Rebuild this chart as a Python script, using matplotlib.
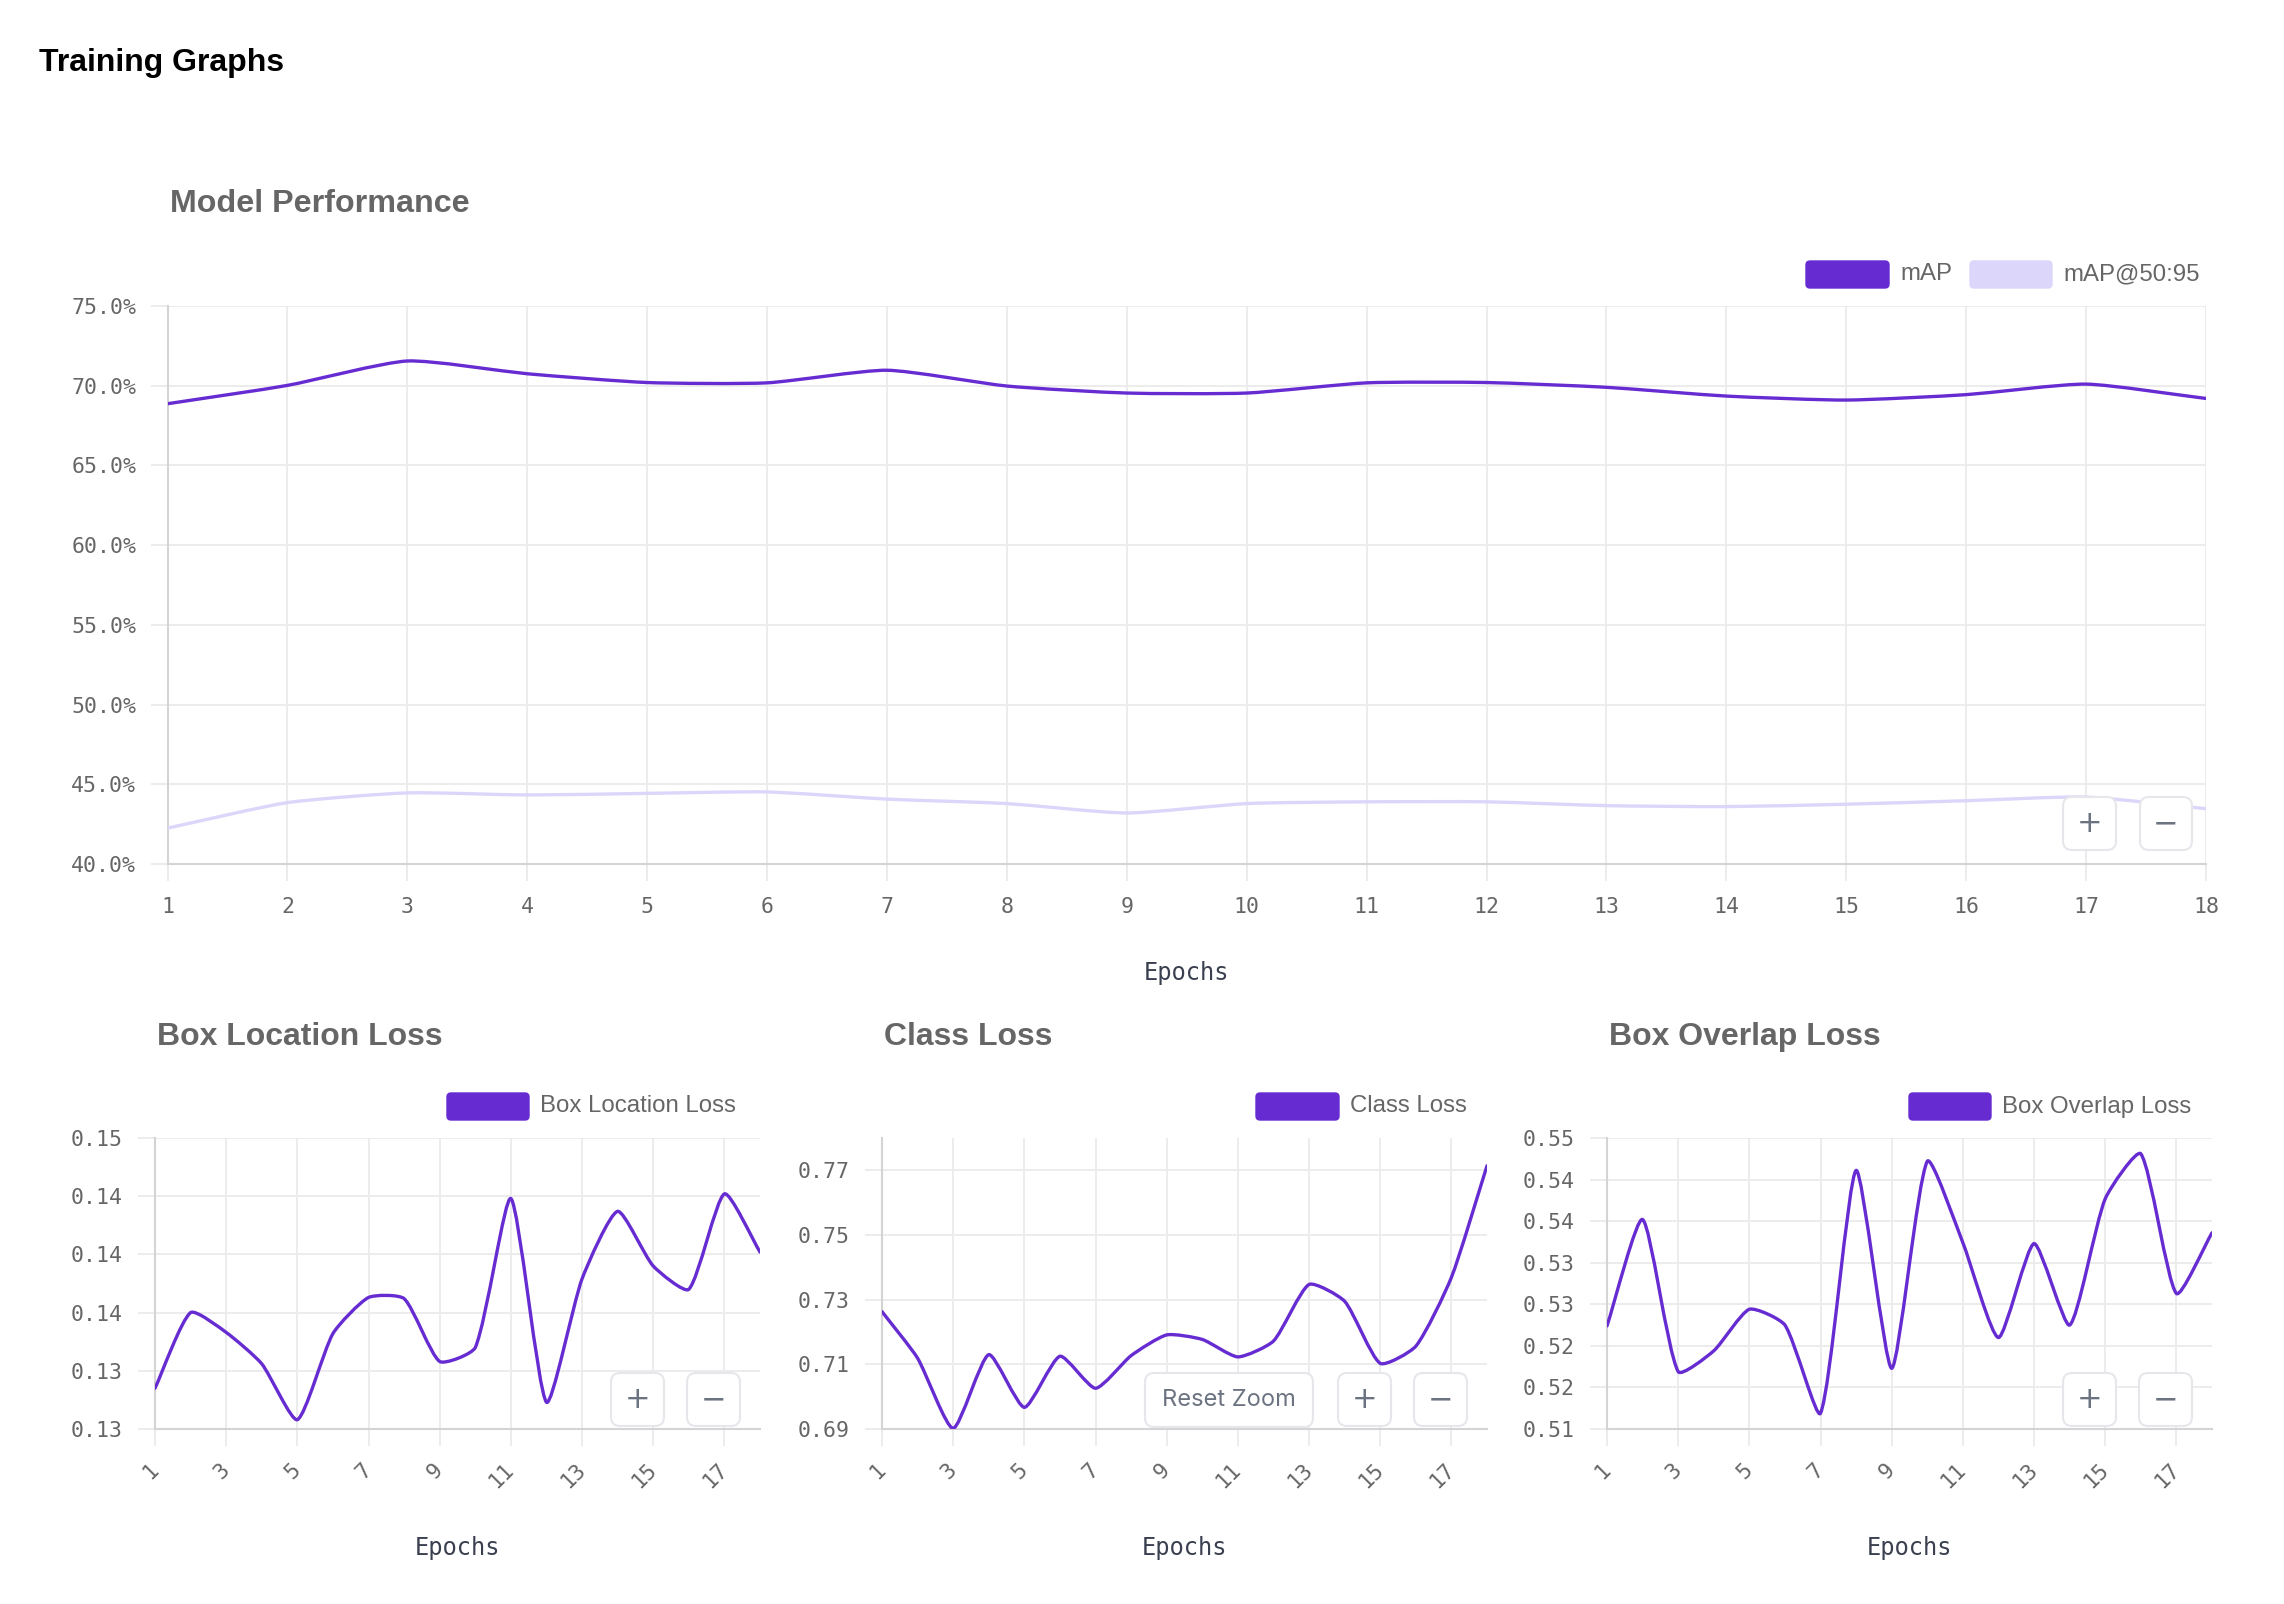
import numpy as np
import matplotlib
matplotlib.use("Agg")
import matplotlib.pyplot as plt
from matplotlib.path import Path
from matplotlib.patches import PathPatch, FancyBboxPatch
from matplotlib.transforms import IdentityTransform

# ---------------- data ----------------
epochs = list(range(1, 19))
map_values = [68.87, 70.02, 71.55, 70.75, 70.20, 70.18, 70.97, 69.98, 69.54,
              69.54, 70.18, 70.20, 69.90, 69.35, 69.10, 69.44, 70.10, 69.20]
map5095_values = [42.25, 43.85, 44.46, 44.33, 44.43, 44.52, 44.07, 43.79, 43.20,
                  43.79, 43.90, 43.90, 43.66, 43.60, 43.75, 43.97, 44.20, 43.47]
box_location_loss = [0.1285, 0.1350, 0.1333, 0.1306, 0.1258, 0.1332, 0.1363, 0.1362, 0.1308,
                     0.1320, 0.1448, 0.1273, 0.1379, 0.1437, 0.1390, 0.1370, 0.1452, 0.1402]
class_loss = [0.7263, 0.7119, 0.6902, 0.7130, 0.6967, 0.7125, 0.7026, 0.7127, 0.7191,
              0.7177, 0.7123, 0.7172, 0.7347, 0.7295, 0.7103, 0.7156, 0.7369, 0.7714]
box_overlap_loss = [0.5224, 0.5352, 0.5169, 0.5194, 0.5244, 0.5225, 0.5119, 0.5411, 0.5173,
                    0.5422, 0.5324, 0.5210, 0.5323, 0.5225, 0.5377, 0.5431, 0.5263, 0.5336]

perf_yticks = [40, 45, 50, 55, 60, 65, 70, 75]
perf_ytick_labels = ["40.0%", "45.0%", "50.0%", "55.0%", "60.0%", "65.0%", "70.0%", "75.0%"]
loss_xticks = [1, 3, 5, 7, 9, 11, 13, 15, 17]
box_loc_yticks = [0.125, 0.130, 0.135, 0.140, 0.145, 0.150]
box_loc_ytick_labels = ["0.13", "0.13", "0.14", "0.14", "0.14", "0.15"]
class_yticks = [0.69, 0.71, 0.73, 0.75, 0.77]
class_ytick_labels = ["0.69", "0.71", "0.73", "0.75", "0.77"]
overlap_yticks = [0.510, 0.515, 0.520, 0.525, 0.530, 0.535, 0.540, 0.545]
overlap_ytick_labels = ["0.51", "0.52", "0.52", "0.53", "0.53", "0.54", "0.54", "0.55"]

# ---------------- style ----------------
W, H = 2284, 1604
PURPLE = '#662CD2'
LIGHT = '#DCD6FA'
GRID = '#ECECEC'
AXIS = '#D4D4D4'
TICKC = '#666666'
MONO = 'DejaVu Sans Mono'
SANS = 'Liberation Sans'
TENSION = 0.2

fig = plt.figure(figsize=(W / 100, H / 100), dpi=100)
fig.patch.set_facecolor('white')
ID = IdentityTransform()


def add_axes_px(l, t, r, b):
    return fig.add_axes([l / W, 1 - b / H, (r - l) / W, (b - t) / H])


def spline_path(ax, xs, ys, tension=TENSION):
    x0, x1 = ax.get_xlim()
    y0, y1 = ax.get_ylim()
    pos = ax.get_position()
    pw, ph = pos.width * W, pos.height * H
    px = (np.asarray(xs, float) - x0) / (x1 - x0) * pw
    py = (np.asarray(ys, float) - y0) / (y1 - y0) * ph
    n = len(px)
    prev_c = np.zeros((n, 2))
    next_c = np.zeros((n, 2))
    for i in range(n):
        p0 = np.array([px[max(i - 1, 0)], py[max(i - 1, 0)]])
        p1 = np.array([px[i], py[i]])
        p2 = np.array([px[min(i + 1, n - 1)], py[min(i + 1, n - 1)]])
        d01 = np.hypot(*(p1 - p0))
        d12 = np.hypot(*(p2 - p1))
        tot = d01 + d12
        s01 = d01 / tot if tot else 0.0
        s12 = d12 / tot if tot else 0.0
        prev_c[i] = p1 - tension * s01 * (p2 - p0)
        next_c[i] = p1 + tension * s12 * (p2 - p0)
    for c in (prev_c, next_c):
        c[:, 0] = np.clip(c[:, 0], 0, pw)
        c[:, 1] = np.clip(c[:, 1], 0, ph)
    verts = [(px[0], py[0])]
    codes = [Path.MOVETO]
    for i in range(n - 1):
        verts += [tuple(next_c[i]), tuple(prev_c[i + 1]), (px[i + 1], py[i + 1])]
        codes += [Path.CURVE4] * 3
    verts = np.array(verts)
    verts[:, 0] = x0 + verts[:, 0] / pw * (x1 - x0)
    verts[:, 1] = y0 + verts[:, 1] / ph * (y1 - y0)
    return Path(verts, codes)


def draw_series(ax, xs, ys, color, lw=2.4, z=3):
    ax.add_patch(PathPatch(spline_path(ax, xs, ys), facecolor='none', edgecolor=color,
                           lw=lw, zorder=z, capstyle='round', joinstyle='round'))


def style_axis(ax, xlim, ylim, xticks, yticks, ylabels, ypad):
    ax.set_xlim(xlim)
    ax.set_ylim(ylim)
    ax.set_xticks(xticks)
    ax.set_yticks(yticks)
    ax.set_yticklabels(ylabels)
    ax.grid(True, color=GRID, lw=1.4)
    ax.set_axisbelow(True)
    for s in ['top', 'right']:
        ax.spines[s].set_visible(False)
    for s in ['left', 'bottom']:
        ax.spines[s].set_color(AXIS)
        ax.spines[s].set_linewidth(1.5)
    ax.tick_params(axis='both', color=GRID, width=1.4, length=12, labelcolor=TICKC, labelsize=15.5)
    ax.tick_params(axis='y', pad=ypad)
    for lab in ax.get_yticklabels():
        lab.set_fontfamily(MONO)


def ptext(x, y, s, **kw):
    fig.text(x, H - y, s, transform=ID, **kw)


def legend_item(l, t, r, b, color, label):
    fig.add_artist(FancyBboxPatch((l, H - b), r - l, b - t, boxstyle="round,pad=0,rounding_size=4",
                                  facecolor=color, edgecolor=color, lw=1, transform=ID, zorder=5))
    ptext(r + 11, (t + b) / 2, label, ha='left', va='center', fontsize=17.3,
          family=SANS, color='#666666', zorder=5)


def button(l, t, r, b, label, size=22, family='DejaVu Sans'):
    fig.add_artist(FancyBboxPatch((l, H - b), r - l, b - t, boxstyle="round,pad=0,rounding_size=9",
                                  facecolor='white', edgecolor='#E5E7EB', lw=1.5, transform=ID, zorder=6))
    ptext((l + r) / 2, (t + b) / 2, label, ha='center', va='center', fontsize=size,
          family=family, color='#6B7280', zorder=7)


# ---------------- page title ----------------
ptext(39, 71, "Training Graphs", ha='left', va='baseline', fontsize=23,
      family=SANS, fontweight='bold', color='black')

# ---------------- Model Performance ----------------
ax0 = add_axes_px(167.5, 306, 2206, 864)
style_axis(ax0, (1, 18), (40, 75), epochs, perf_yticks, perf_ytick_labels, ypad=10.5)
ax0.set_xticklabels([str(e) for e in epochs], fontfamily=MONO)
ax0.tick_params(axis='x', pad=12)
draw_series(ax0, epochs, map5095_values, LIGHT, z=3)
draw_series(ax0, epochs, map_values, PURPLE, z=4)
ptext(170, 212, "Model Performance", ha='left', va='baseline', fontsize=23.2,
      family=SANS, fontweight='bold', color='#666666')
legend_item(1806, 261, 1889, 288, PURPLE, "mAP")
legend_item(1970, 261, 2052, 288, LIGHT, "mAP@50:95")
ptext((167.5 + 2206) / 2, 973, "Epochs", ha='center', va='center', fontsize=17,
      family=MONO, color='#3A4050')
button(2063, 797, 2116, 850, "+")
button(2140, 797, 2192, 850, "\u2212")

# ---------------- loss charts ----------------
loss_panels = [
    ("Box Location Loss", box_location_loss, (155, 760), (0.125, 0.150), box_loc_yticks,
     box_loc_ytick_labels, (447, 529)),
    ("Class Loss", class_loss, (882, 1487), (0.69, 0.780), class_yticks,
     class_ytick_labels, (1256, 1339)),
    ("Box Overlap Loss", box_overlap_loss, (1607, 2212), (0.510, 0.545), overlap_yticks,
     overlap_ytick_labels, (1909, 1991)),
]
TOP, BOT = 1138, 1429
for title, vals, (l, r), ylim, yt, ylab, (ll, lr) in loss_panels:
    ax = add_axes_px(l, TOP, r, BOT)
    style_axis(ax, (1, 18), ylim, loss_xticks, yt, ylab, ypad=11.5)
    ax.set_xticklabels([str(e) for e in loss_xticks], rotation=45, ha='right', va='center',
                       rotation_mode='anchor', fontfamily=MONO)
    ax.tick_params(axis='x', pad=15)
    draw_series(ax, epochs, vals, PURPLE, z=4)
    ptext(l + 2, 1045, title, ha='left', va='baseline', fontsize=23,
          family=SANS, fontweight='bold', color='#666666')
    legend_item(ll, 1093, lr, 1120, PURPLE, title)
    ptext((l + r) / 2, 1548, "Epochs", ha='center', va='center', fontsize=17,
          family=MONO, color='#3A4050')
    if title == "Class Loss":
        button(1145, 1373, 1313, 1427, "Reset Zoom", size=17, family='Inter')
    button(r - 149, 1373, r - 96, 1426, "+")
    button(r - 73, 1373, r - 20, 1426, "\u2212")

fig.savefig("out.png", dpi=100, facecolor='white')
